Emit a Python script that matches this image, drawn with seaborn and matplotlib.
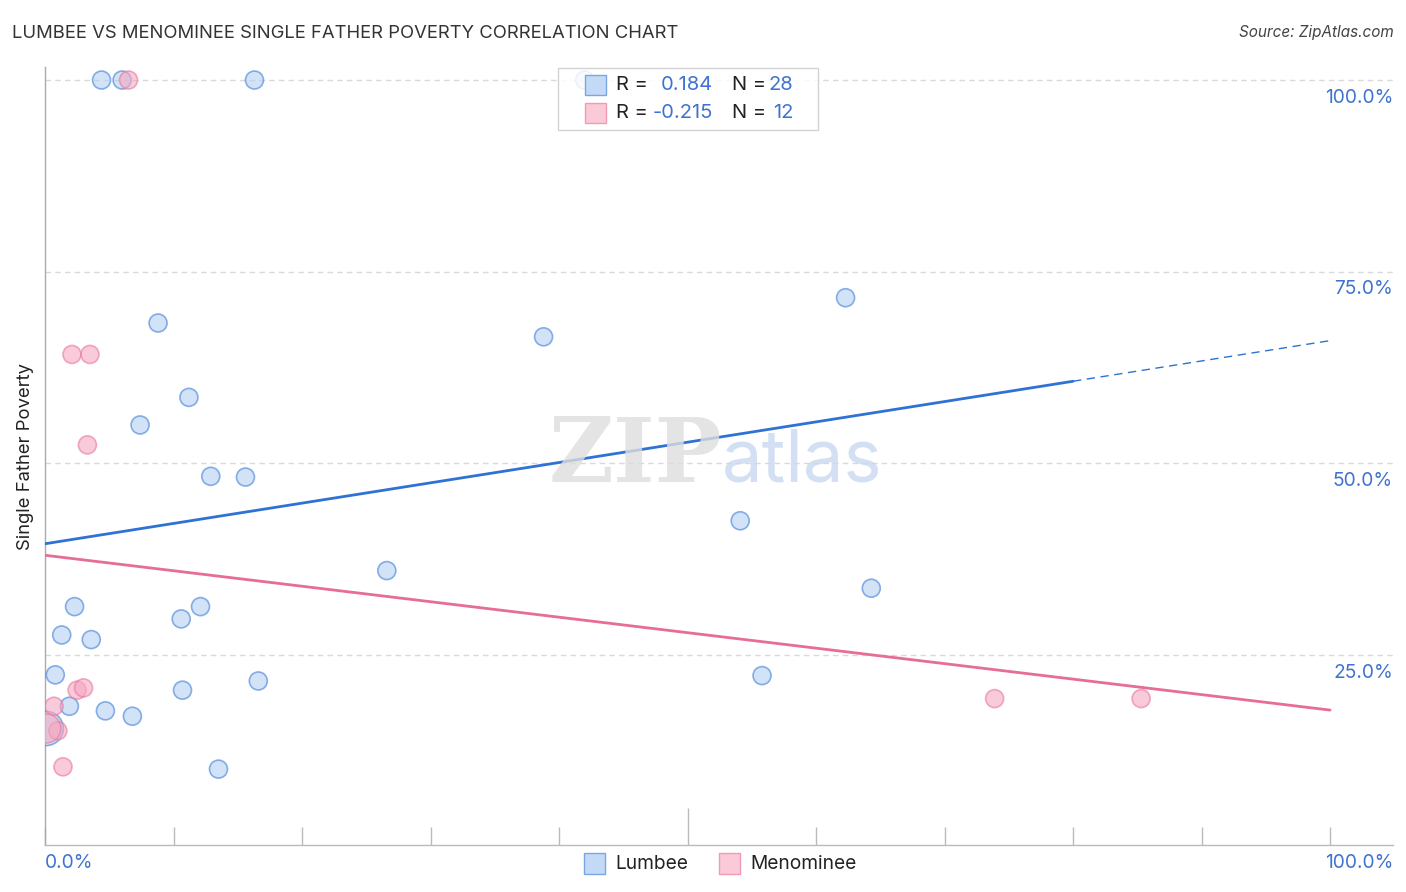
import numpy as np
import pandas as pd
import matplotlib
matplotlib.use("Agg")
import matplotlib.pyplot as plt
import seaborn as sns
from matplotlib.patches import Rectangle

sns.set_theme(style="white")
plt.rcParams['font.family'] = ['Inter', 'DejaVu Sans']

# ---- data ----
lumbee_x = [4.4, 6.0, 16.3, 42.0, 8.8, 11.2, 7.4, 12.9, 15.6, 38.8, 62.3, 54.1, 26.6, 64.3,
            2.3, 12.1, 10.6, 1.3, 3.6, 0.8, 16.6, 55.8, 10.7, 1.9, 4.7, 6.8, 13.5, 0.1]
lumbee_y = [100.0, 100.0, 100.0, 100.0, 68.3, 58.6, 55.0, 48.3, 48.2, 66.5, 71.6, 42.5, 36.0, 33.7,
            31.3, 31.3, 29.7, 27.6, 27.0, 22.4, 21.6, 22.3, 20.4, 18.3, 17.7, 17.0, 10.1, 15.4]
lumbee_size = [1] * 27 + [3.6]

menom_x = [6.5, 2.1, 3.5, 3.3, 2.5, 3.0, 0.7, 1.0, 1.4, 73.9, 85.3, 0.1]
menom_y = [100.0, 64.2, 64.2, 52.4, 20.4, 20.7, 18.3, 15.1, 10.4, 19.3, 19.3, 15.4]
menom_size = [1] * 11 + [2.6]

# trend lines (value at x=0 and x=100)
lumbee_trend = [39.5, 66.0]
menom_trend = [38.0, 17.8]
lumbee_solid_end = 80.0

r_values = ["0.184", "-0.215"]
n_values = ["28", "12"]
series_names = ["Lumbee", "Menominee"]
y_ticks = [25, 50, 75, 100]
y_tick_labels = ["25.0%", "50.0%", "75.0%", "100.0%"]

blue_fill = "#b5cff3"
blue_edge = "#3f7fd8"
pink_fill = "#f5a8c0"
pink_edge = "#e8779c"
blue_patch = "#c4d9f6"
blue_patch_edge = "#7ba6e4"
pink_patch = "#fbcad8"
pink_patch_edge = "#f09ab6"
blue_line = "#2f72d4"
pink_line = "#e66d96"
label_blue = "#3f73d0"

df = pd.concat([
    pd.DataFrame({"x": lumbee_x, "y": lumbee_y, "s": lumbee_size, "g": "Lumbee"}),
    pd.DataFrame({"x": menom_x, "y": menom_y, "s": menom_size, "g": "Menominee"}),
])

W, H = 1406, 892
fig = plt.figure(figsize=(14.06, 8.92), dpi=100)
ax = fig.add_axes([45 / W, 1 - 845 / H, (1393 - 45) / W, (845 - 67) / H])

ax.set_xlim(0, 104.9)
ax.set_ylim(0.2, 101.7)

for yv in y_ticks:
    ax.axhline(yv, color="#d9d9d9", lw=1, ls=(0, (4, 3)), zorder=0)

base = 168
for name, fill, edge, big in [("Lumbee", blue_fill, blue_edge, 3.6), ("Menominee", pink_fill, pink_edge, 2.6)]:
    sub = df[df.g == name]
    sns.scatterplot(data=sub, x="x", y="y", size="s", sizes=(base, base * big),
                    ax=ax, color=fill, edgecolor=edge, linewidth=1.2,
                    alpha=0.6, legend=False, zorder=3)

# trend lines
xs = np.array([0, lumbee_solid_end])
ys = lumbee_trend[0] + (lumbee_trend[1] - lumbee_trend[0]) * xs / 100
ax.plot(xs, ys, color=blue_line, lw=2, zorder=4)
xs2 = np.array([lumbee_solid_end, 100])
ys2 = lumbee_trend[0] + (lumbee_trend[1] - lumbee_trend[0]) * xs2 / 100
ax.plot(xs2, ys2, color=blue_line, lw=1, ls=(0, (6, 4)), zorder=4)
ax.plot([0, 100], menom_trend, color=pink_line, lw=2, zorder=4)

# spines and ticks
for sp in ["top", "right"]:
    ax.spines[sp].set_visible(False)
ax.spines["left"].set_color("#aaaaaa")
ax.spines["bottom"].set_color("#bbbbbb")
ax.spines["left"].set_linewidth(1)
ax.spines["bottom"].set_linewidth(1)
ax.set_xticks([50])
ax.set_xticks(np.arange(0, 101, 10), minor=True)
ax.tick_params(axis="x", which="major", bottom=True, direction="in", length=27, width=1,
               color="#bbbbbb", labelbottom=False)
ax.tick_params(axis="x", which="minor", bottom=True, direction="in", length=13, width=1,
               color="#bbbbbb")
ax.set_yticks([])
ax.set_xlabel("")
ax.set_ylabel("Single Father Poverty", fontsize=13.3, color="#222222", labelpad=8)

for yv, lab in zip(y_ticks, y_tick_labels):
    ax.text(1.0, yv - 2.3, lab, transform=ax.get_yaxis_transform(), ha="right", va="center",
            fontsize=13.8, color=label_blue)

fig.text(45 / W, 1 - 863 / H, "0.0%", ha="left", va="center", fontsize=13.8, color=label_blue)
fig.text(1393 / W, 1 - 863 / H, "100.0%", ha="right", va="center", fontsize=13.8, color=label_blue)

# title / source
fig.text(12 / W, 1 - 33 / H, "LUMBEE VS MENOMINEE SINGLE FATHER POVERTY CORRELATION CHART",
         ha="left", va="center", fontsize=13.3, color="#333333")
fig.text(1394 / W, 1 - 33 / H, "Source: ZipAtlas.com", ha="right", va="center",
         fontsize=11, color="#444444", style="italic")

# watermark
fig.text(635 / W, 1 - 457 / H, "ZIP", ha="center", va="center", fontsize=64,
         color="#dedede", family="DejaVu Serif", weight="bold", alpha=0.8)
fig.text(802 / W, 1 - 463 / H, "atlas", ha="center", va="center", fontsize=52,
         color="#c9d8f0", alpha=0.8)

# top legend box
fig.patches.append(Rectangle((558 / W, 1 - 130 / H), 260 / W, 62 / H, transform=fig.transFigure,
                             facecolor="white", edgecolor="#cccccc", lw=1, alpha=0.85, zorder=10))
for i, (fill, edge) in enumerate([(blue_patch, blue_patch_edge), (pink_patch, pink_patch_edge)]):
    yc = [85, 113][i]
    fig.patches.append(Rectangle((585 / W, 1 - (yc + 10) / H), 21 / W, 20 / H, transform=fig.transFigure,
                                 facecolor=fill, edgecolor=edge, lw=1, zorder=11))
    fig.text(616 / W, 1 - yc / H, "R =", ha="left", va="center", fontsize=14.5, color="#222222", zorder=12)
    fig.text(713 / W, 1 - yc / H, r_values[i], ha="right", va="center", fontsize=14.5, color=label_blue, zorder=12)
    fig.text(732 / W, 1 - yc / H, "N =", ha="left", va="center", fontsize=14.5, color="#222222", zorder=12)
    fig.text(793 / W, 1 - yc / H, n_values[i], ha="right", va="center", fontsize=14.5, color=label_blue, zorder=12)

# bottom legend
for i, (fill, edge) in enumerate([(blue_patch, blue_patch_edge), (pink_patch, pink_patch_edge)]):
    xl = [584, 719][i]
    fig.patches.append(Rectangle((xl / W, 1 - 874 / H), 21 / W, 21 / H, transform=fig.transFigure,
                                 facecolor=fill, edgecolor=edge, lw=1))
    fig.text((xl + 31) / W, 1 - 864 / H, series_names[i], ha="left", va="center", fontsize=13.8, color="#222222")

fig.savefig("out.png", dpi=100)
